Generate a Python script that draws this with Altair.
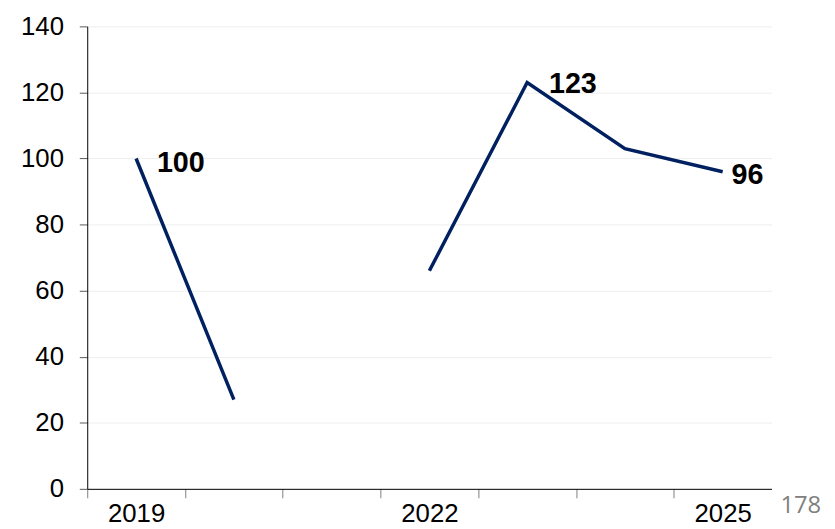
import json
import altair as alt
import pandas as pd

# ---- data ----
years = [2019, 2020, 2021, 2022, 2023, 2024, 2025]
values = [100, 27, None, 66, 123, 103, 96]
segments = ["a", "a", None, "b", "b", "b", "b"]

label_years = [2019, 2023, 2025]
label_values = [100, 123, 96]
label_texts = ["100", "123", "96"]

axis_label_years = [2019, 2022, 2025]
y_ticks = [0, 20, 40, 60, 80, 100, 120, 140]
page_number = "178"

# ---- styling constants ----
LINE_COLOR = "#002060"
FONT = "Liberation Sans"
PLOT_W, PLOT_H = 691, 467
label_offsets = {2019: (21, 5), 2023: (22, 2), 2025: (9, 3)}

df = pd.DataFrame({"year": years, "value": values, "segment": segments}).dropna()

x_scale = alt.Scale(domain=[years[0] - 0.5, years[-1] + 0.5], nice=False, zero=False)
y_scale = alt.Scale(domain=[0, 140], nice=False)

tick_positions = [y - 0.5 for y in years]
labeled_positions = [y - 0.5 for y in axis_label_years]
band_px = PLOT_W / len(years)
label_expr = (
    "indexof(" + json.dumps(labeled_positions) + ", datum.value) >= 0 ? "
    "format(datum.value + 0.5, 'd') : ''"
)

x_axis = alt.Axis(
    values=tick_positions,
    labelExpr=label_expr,
    labelOffset=band_px / 2,
    labelFlush=False,
    labelOverlap=False,
    labelBound=False,
    labelAlign="center",
    grid=False,
    tickSize=9,
    tickColor="#7f7f7f",
    domainColor="#000000",
    domainWidth=1,
    labelFont=FONT,
    labelFontSize=26,
    labelColor="#000000",
    labelPadding=3,
    title=None,
)

y_axis = alt.Axis(
    values=y_ticks,
    grid=True,
    gridColor="#eeeeee",
    gridWidth=1,
    tickSize=8,
    tickColor="#595959",
    domainColor="#000000",
    domainWidth=1,
    labelFont=FONT,
    labelFontSize=26,
    labelColor="#000000",
    labelPadding=16,
    title=None,
)

line = alt.Chart(df).mark_line(color=LINE_COLOR, strokeWidth=3.5).encode(
    x=alt.X("year:Q", scale=x_scale, axis=x_axis),
    y=alt.Y("value:Q", scale=y_scale, axis=y_axis),
    detail="segment:N",
)

labels_df = pd.DataFrame({"year": label_years, "value": label_values, "text": label_texts})
text_layers = []
for yr in label_years:
    dx, dy = label_offsets[yr]
    text_layers.append(
        alt.Chart(labels_df)
        .transform_filter(alt.datum.year == yr)
        .mark_text(
            align="left",
            baseline="middle",
            dx=dx,
            dy=dy,
            font=FONT,
            fontSize=29,
            fontWeight="bold",
            color="#000000",
        )
        .encode(
            x=alt.X("year:Q", scale=x_scale),
            y=alt.Y("value:Q", scale=y_scale),
            text="text:N",
        )
    )

page = alt.Chart(pd.DataFrame({"t": [page_number]})).mark_text(
    align="left", baseline="middle", font="Open Sans", fontSize=24, color="#808080"
).encode(x=alt.value(700), y=alt.value(484), text="t:N")

chart = (
    alt.layer(line, *text_layers, page)
    .properties(
        width=PLOT_W,
        height=PLOT_H,
        padding={"left": 80, "top": 16, "right": 56, "bottom": 38},
        autosize=alt.AutoSizeParams(type="none"),
    )
    .configure_view(stroke=None)
)

chart.save("out.html", embed_options={"renderer": "svg", "actions": False})
